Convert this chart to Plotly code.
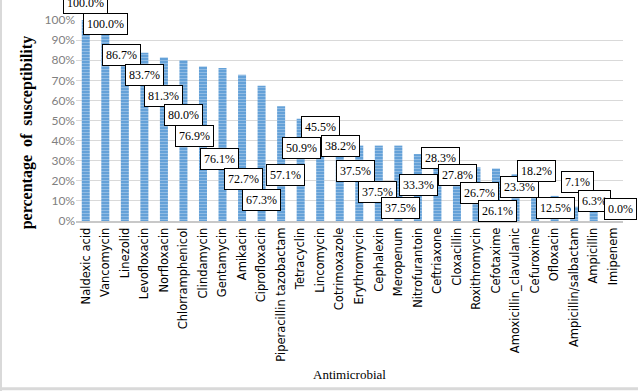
import plotly.graph_objects as go

categories = ["Naldexic acid", "Vancomycin", "Linezolid", "Levofloxacin", "Norfloxacin",
              "Chlorramphenicol", "Clindamycin", "Gentamycin", "Amikacin", "Ciprofloxacin",
              "Piperacillin tazobactam", "Tetracyclin", "Lincomycin", "Cotrimoxazole",
              "Erythromycin", "Cephalexin", "Meropenum", "Nitrofurantoin", "Ceftriaxone",
              "Cloxacillin", "Roxithromycin", "Cefotaxime", "Amoxicillin_clavulanic",
              "Cefuroxime", "Ofloxacin", "Ampicillin/salbactam", "Ampicillin", "Imipenem"]
susceptibility = [100.0, 100.0, 86.7, 83.7, 81.3, 80.0, 76.9, 76.1, 72.7, 67.3,
                  57.1, 50.9, 45.5, 38.2, 37.5, 37.5, 37.5, 33.3, 28.3, 27.8,
                  26.7, 26.1, 23.3, 18.2, 12.5, 7.1, 6.3, 0.0]
y_ticks = [0, 10, 20, 30, 40, 50, 60, 70, 80, 90, 100]

# label box offsets (pixels) relative to bar top, as in the staggered original
label_dx = [0, 0, -3, 0, 0, 0, -8, -3, 1, 0, 4, 1, 0, 1, -4, -1, 2, 1, 3, 1, 3, 1, 4, 1, 1, 3, 1, 7]
label_dy = [17, -4, -8, -22, -38, -55, -70, -91, -104, -114, -69, -29, 3, -2, -25, -46, -62,
            -31, 6, -10, -26, -42, -13, 13, -12, 25, 7, 12]

fig = go.Figure()
fig.add_trace(go.Bar(
    x=categories, y=susceptibility,
    marker=dict(color="#5B9BD5", line=dict(width=0),
                pattern=dict(shape="-", fgcolor="#C5DCF1", size=3, solidity=0.45,
                             fillmode="overlay")),
    hoverinfo="x+y",
))

for c, v, dx, dy in zip(categories, susceptibility, label_dx, label_dy):
    fig.add_annotation(x=c, y=v, text=f"{v:.1f}%", showarrow=False,
                       xshift=dx, yshift=dy, bgcolor="white", bordercolor="black",
                       borderwidth=1, borderpad=3,
                       font=dict(family="Liberation Serif", size=12, color="black"))

fig.add_annotation(x=0.5, y=-0.765, xref="paper", yref="paper", text="Antimicrobial",
                   showarrow=False, yanchor="middle",
                   font=dict(family="Liberation Serif", size=13, color="black"))
fig.add_annotation(x=-0.09, y=0.44, xref="paper", yref="paper", xanchor="center",
                   text="<b>percentage  of  susceptibility</b>", textangle=-90,
                   showarrow=False, font=dict(family="Liberation Serif", size=16, color="black"))

# light frame of the original picture
fig.add_shape(type="line", xref="paper", yref="paper", x0=-0.1371, x1=-0.1371, y0=-0.85, y1=1.1,
              line=dict(color="#d9d9d9", width=2))
fig.add_shape(type="line", xref="paper", yref="paper", x0=-0.14, x1=1.03, y0=-0.835, y1=-0.835,
              line=dict(color="#d9d9d9", width=3))

fig.update_layout(
    width=638, height=391,
    margin=dict(l=76, r=15, t=20, b=170),
    paper_bgcolor="white", plot_bgcolor="white",
    bargap=0.59, showlegend=False,
    xaxis=dict(range=[-0.5, len(categories) - 0.5],
               tickangle=-90, tickfont=dict(family="DejaVu Sans", size=11.5, color="black"),
               showline=True, linecolor="#c8c8c8", linewidth=2, ticks="", showgrid=False,
               automargin=False),
    yaxis=dict(range=[0, 100], tickvals=y_ticks, ticktext=[f"{t}%" for t in y_ticks],
               tickfont=dict(family="Lato", size=12, color="#7f7f7f"),
               showgrid=True, gridcolor="#d9d9d9", gridwidth=1, zeroline=False,
               ticks="", showline=False, automargin=False),
)

fig.write_html("out.html")
